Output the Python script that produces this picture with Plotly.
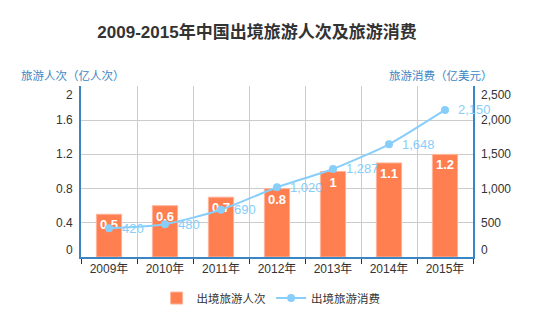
import plotly.graph_objects as go

years = ["2009年", "2010年", "2011年", "2012年", "2013年", "2014年", "2015年"]
trips = [0.5, 0.6, 0.7, 0.8, 1.0, 1.1, 1.2]
spend = [420, 480, 690, 1020, 1287, 1648, 2150]
trip_labels = ["0.5", "0.6", "0.7", "0.8", "1", "1.1", "1.2"]
spend_labels = ["420", "480", "690", "1,020", "1,287", "1,648", "2,150"]
left_ticks = [0, 0.4, 0.8, 1.2, 1.6, 2]
left_tick_text = ["0", "0.4", "0.8", "1.2", "1.6", "2"]
right_ticks = [0, 500, 1000, 1500, 2000, 2500]
right_tick_text = ["0", "500", "1,000", "1,500", "2,000", "2,500"]

FONT = "Liberation Sans, Noto Sans CJK SC, sans-serif"
BLUE = "#3a86c4"
LIGHT = "#87cefa"
CORAL = "#ff7f50"
GRID = "#cccccc"
TXT = "#333333"

fig = go.Figure()
fig.add_trace(go.Bar(
    x=years, y=trips, name="出境旅游人次", width=0.45,
    marker=dict(color=CORAL, line=dict(color="#ffb49a", width=1)),
    text=trip_labels, textposition="inside", insidetextanchor="end", textangle=0,
    textfont=dict(color="white", size=13, family=FONT, weight="bold"),
    cliponaxis=False, yaxis="y",
))
fig.add_trace(go.Scatter(
    x=years, y=spend, name="出境旅游消费", mode="lines+markers",
    line=dict(color=LIGHT, width=2, shape="spline", smoothing=0.6),
    marker=dict(color=LIGHT, size=8), yaxis="y2",
))

annotations = []
for x, v, t in zip(years, spend, spend_labels):
    annotations.append(dict(x=x, xref="x", y=v, yref="y2", text=t, showarrow=False,
                            xanchor="left", yanchor="middle", xshift=11,
                            font=dict(size=13, color=LIGHT, family=FONT)))
for v, t in zip(left_ticks, left_tick_text):
    shift = 7 if v == left_ticks[0] else (-9 if v == left_ticks[-1] else 0)
    annotations.append(dict(x=0, xref="paper", y=v, yref="y", text=t, showarrow=False,
                            xanchor="right", yanchor="middle", xshift=-6, yshift=shift,
                            font=dict(size=12, color=TXT, family=FONT)))
for v, t in zip(right_ticks, right_tick_text):
    shift = 7 if v == right_ticks[0] else (-9 if v == right_ticks[-1] else 0)
    annotations.append(dict(x=1, xref="paper", y=v, yref="y2", text=t, showarrow=False,
                            xanchor="left", yanchor="middle", xshift=6, yshift=shift,
                            font=dict(size=12, color=TXT, family=FONT)))
annotations.append(dict(x=0, xref="paper", y=1, yref="paper", text="旅游人次（亿人次）",
                        showarrow=False, xanchor="center", yanchor="middle", xshift=-8, yshift=11,
                        font=dict(size=11.5, color=BLUE, family=FONT)))
annotations.append(dict(x=1, xref="paper", y=1, yref="paper", text="旅游消费（亿美元）",
                        showarrow=False, xanchor="center", yanchor="middle", xshift=-32, yshift=11,
                        font=dict(size=11.5, color=BLUE, family=FONT)))

fig.update_layout(
    width=559, height=331,
    margin=dict(l=81, r=86, t=86, b=74, pad=0),
    paper_bgcolor="white", plot_bgcolor="white",
    font=dict(family=FONT, size=12, color=TXT),
    title=dict(text="<b>2009-2015年中国出境旅游人次及旅游消费</b>", x=257 / 559, xanchor="center",
               xref="container", y=1 - 32 / 331, yanchor="middle", yref="container",
               font=dict(size=17, color=TXT, family=FONT)),
    xaxis=dict(type="category", categoryorder="array", categoryarray=years,
               range=[-0.5, len(years) - 0.5], autorange=False,
               tickson="boundaries", showgrid=True, gridcolor=GRID, gridwidth=1,
               showline=True, linecolor=BLUE, linewidth=2, ticks="outside", ticklen=5,
               tickcolor=TXT, tickfont=dict(size=12, color=TXT, family=FONT), fixedrange=True),
    yaxis=dict(range=[0, 2], autorange=False, tickvals=left_ticks, showticklabels=False,
               showgrid=True, gridcolor=GRID, gridwidth=1, zeroline=False, showline=True,
               linecolor=BLUE, linewidth=2, ticks=""),
    yaxis2=dict(range=[0, 2500], autorange=False, tickvals=right_ticks, showticklabels=False,
                showgrid=False, zeroline=False, showline=True, linecolor=BLUE, linewidth=2,
                ticks="", overlaying="y", side="right"),
    legend=dict(orientation="h", x=0.485, xanchor="center", y=-0.24, yanchor="middle",
                font=dict(size=11.5, color=TXT, family=FONT), itemwidth=30),
    annotations=annotations,
    bargap=0.55,
)

fig.write_html("out.html")
